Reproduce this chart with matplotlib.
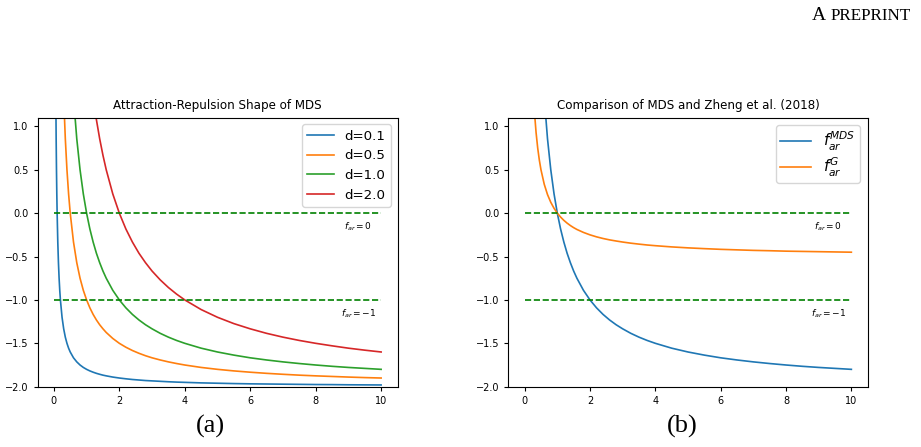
import numpy as np
import matplotlib.pyplot as plt

nan = np.nan

# sample positions
x = [0.05, 0.06, 0.07, 0.08, 0.09, 0.1, 0.12, 0.14, 0.16, 0.18, 0.2, 0.25, 0.3,
     0.35, 0.4, 0.45, 0.5, 0.6, 0.7, 0.8, 0.9, 1.0, 1.1, 1.2, 1.3, 1.4, 1.5,
     1.6, 1.8, 2.0, 2.2, 2.4, 2.6, 2.8, 3.0, 3.25, 3.5, 3.75, 4.0, 4.5, 5.0,
     5.5, 6.0, 6.5, 7.0, 7.5, 8.0, 8.5, 9.0, 9.5, 10.0]

d_labels = ['d=0.1', 'd=0.5', 'd=1.0', 'd=2.0']
f_d01 = [2.0, 1.333, 0.857, 0.5, 0.222, 0.0, -0.333, -0.571, -0.75, -0.889, -1.0,
         -1.2, -1.333, -1.429, -1.5, -1.556, -1.6, -1.667, -1.714, -1.75, -1.778,
         -1.8, -1.818, -1.833, -1.846, -1.857, -1.867, -1.875, -1.889, -1.9,
         -1.909, -1.917, -1.923, -1.929, -1.933, -1.938, -1.943, -1.947, -1.95,
         -1.956, -1.96, -1.964, -1.967, -1.969, -1.971, -1.973, -1.975, -1.976,
         -1.978, -1.979, -1.98]
f_d05 = [nan] * 11 + [
         2.0, 1.333, 0.857, 0.5, 0.222, 0.0, -0.333, -0.571, -0.75, -0.889,
         -1.0, -1.091, -1.167, -1.231, -1.286, -1.333, -1.375, -1.444, -1.5,
         -1.545, -1.583, -1.615, -1.643, -1.667, -1.692, -1.714, -1.733, -1.75,
         -1.778, -1.8, -1.818, -1.833, -1.846, -1.857, -1.867, -1.875, -1.882,
         -1.889, -1.895, -1.9]
f_d10 = [nan] * 15 + [
         2.444, 2.0, 1.333, 0.857, 0.5, 0.222, 0.0, -0.182, -0.333, -0.462,
         -0.571, -0.667, -0.75, -0.889, -1.0, -1.091, -1.167, -1.231, -1.286,
         -1.333, -1.385, -1.429, -1.467, -1.5, -1.556, -1.6, -1.636, -1.667,
         -1.692, -1.714, -1.733, -1.75, -1.765, -1.778, -1.789, -1.8]
f_d20 = [nan] * 21 + [
         2.0, 1.636, 1.333, 1.077, 0.857, 0.667, 0.5, 0.222, 0.0, -0.182,
         -0.333, -0.462, -0.571, -0.667, -0.769, -0.857, -0.933, -1.0, -1.111,
         -1.2, -1.273, -1.333, -1.385, -1.429, -1.467, -1.5, -1.529, -1.556,
         -1.579, -1.6]
f_G = [nan] * 11 + [
       1.5, 1.167, 0.929, 0.75, 0.611, 0.5, 0.333, 0.214, 0.125, 0.056, 0.0,
       -0.045, -0.083, -0.115, -0.143, -0.167, -0.188, -0.222, -0.25, -0.273,
       -0.292, -0.308, -0.321, -0.333, -0.346, -0.357, -0.367, -0.375, -0.389,
       -0.4, -0.409, -0.417, -0.423, -0.429, -0.433, -0.438, -0.441, -0.444,
       -0.447, -0.45]

ref_levels = [0, -1]
ref_labels = ['$f_{ar}=0$', '$f_{ar}=-1$']

fig = plt.figure(figsize=(9.21, 4.47), dpi=100)
ax1 = fig.add_axes([37.5 / 921, 1 - 386.7 / 447, 360 / 921, 269 / 447])
ax2 = fig.add_axes([508.3 / 921, 1 - 386.7 / 447, 359.4 / 921, 269 / 447])

for ys, lab in zip([f_d01, f_d05, f_d10, f_d20], d_labels):
    ax1.plot(x, ys, lw=1.2, label=lab)
ax2.plot(x, f_d10, lw=1.2, label='$f_{ar}^{MDS}$')
ax2.plot(x, f_G, lw=1.2, label='$f_{ar}^{G}$')

for ax in (ax1, ax2):
    for lvl, txt in zip(ref_levels, ref_labels):
        ax.plot([0, 10], [lvl, lvl], 'g--', lw=1.2)
        ax.text(9.3, lvl - 0.16, txt, fontsize=6.5, ha='center', va='center')
    ax.set_xlim(-0.5, 10.5)
    ax.set_ylim(-2, 1.1)
    ax.tick_params(labelsize=7, length=3, width=0.8)
    for s in ax.spines.values():
        s.set_linewidth(0.8)

ax1.set_title('Attraction-Repulsion Shape of MDS', fontsize=8.6)
ax2.set_title('Comparison of MDS and Zheng et al. (2018)', fontsize=8.6)
ax1.legend(loc='upper right', fontsize=9.6)
ax2.legend(loc='upper right', fontsize=11, labelspacing=0.15, borderpad=0.3)

fig.text(210 / 921, 1 - 426 / 447, '(a)', family='Liberation Serif', fontsize=19,
         ha='center', va='center')
fig.text(682 / 921, 1 - 426 / 447, '(b)', family='Liberation Serif', fontsize=19,
         ha='center', va='center')
fig.text(812 / 921, 1 - 20 / 447, 'A', family='Liberation Serif', fontsize=14,
         ha='left', va='baseline')
fig.text(831 / 921, 1 - 20 / 447, 'PREPRINT', family='Liberation Serif', fontsize=12.3,
         ha='left', va='baseline')

fig.savefig('out.png', dpi=100)
